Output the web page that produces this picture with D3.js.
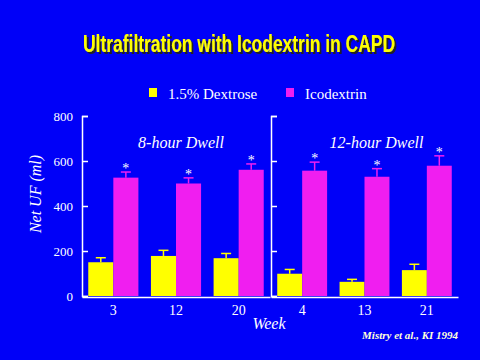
<!DOCTYPE html>
<html>
<head>
<meta charset="utf-8">
<script src="https://cdn.jsdelivr.net/npm/d3@7"></script>
<style>
  body { margin: 0; background: #0000f8; }
  svg { display: block; }
</style>
</head>
<body>
<svg id="chart" width="480" height="360"></svg>
<script>
// data
const panels = ["8-hour Dwell", "12-hour Dwell"];
const weeks = [["3", "12", "20"], ["4", "13", "21"]];
const dextrose = [[150, 178, 168], [99, 63, 115]];
const dextroseErr = [[20, 25, 21], [19, 11, 26]];
const icodextrin = [[526, 500, 561], [557, 530, 579]];
const icodextrinErr = [[25, 25, 26], [38, 36, 44]];
const yTicks = [0, 200, 400, 600, 800];

const BG = "#0000f8";
const YELLOW = "#ffff00";
const MAGENTA = "#f01ef0";
const serif = "'Liberation Serif', 'DejaVu Serif', serif";

const svg = d3.select("#chart");
svg.append("rect").attr("width", 480).attr("height", 360).attr("fill", BG);

// drop shadow for the title
svg.append("defs").append("filter").attr("id", "shadow")
  .attr("filterUnits", "userSpaceOnUse")
  .attr("x", 0).attr("y", 0).attr("width", 480).attr("height", 80)
  .append("feDropShadow")
  .attr("dx", 2).attr("dy", 2).attr("stdDeviation", 0.3)
  .attr("flood-color", "#202020").attr("flood-opacity", 1);

svg.append("text")
  .attr("x", 83).attr("y", 52)
  .attr("textLength", 312).attr("lengthAdjust", "spacingAndGlyphs")
  .attr("font-family", "'Liberation Sans Narrow', 'Liberation Sans', Arial, sans-serif")
  .attr("font-weight", "bold").attr("font-size", 23)
  .attr("fill", YELLOW).attr("filter", "url(#shadow)")
  .text("Ultrafiltration with Icodextrin in CAPD");

// legend
const legend = [["1.5% Dextrose", YELLOW, 149], ["Icodextrin", MAGENTA, 286]];
legend.forEach(([label, color, x]) => {
  svg.append("rect").attr("x", x).attr("y", 88).attr("width", 8).attr("height", 9).attr("fill", color);
  svg.append("text").attr("x", x + 19).attr("y", 99)
    .attr("font-family", serif).attr("font-size", 15).attr("fill", "white").text(label);
});

const y = d3.scaleLinear().domain([0, 800]).range([296, 116]);
const panelX = [[82, 270], [271, 458]];

panels.forEach((name, p) => {
  const x = d3.scaleBand().domain(weeks[p]).range(panelX[p]).paddingInner(0.2).paddingOuter(0.1);
  const bw = x.bandwidth() / 2;
  const g = svg.append("g");

  // y axis, ticks pointing inward
  const ax = g.append("g").attr("transform", `translate(${panelX[p][0]},0)`)
    .call(d3.axisLeft(y).tickValues(yTicks).tickSize(-6).tickPadding(9)
      .tickFormat(p === 0 ? d3.format("d") : () => ""));
  ax.selectAll("path, line").attr("stroke", "white").attr("stroke-width", 1.5);
  ax.selectAll("text").attr("fill", "white").attr("font-family", serif).attr("font-size", 13);

  // baseline + week labels
  const bx = g.append("g").attr("transform", `translate(0,${y(0) + 1})`)
    .call(d3.axisBottom(x).tickSize(0).tickSizeOuter(0).tickPadding(8));
  bx.select("path").attr("stroke", "white").attr("stroke-width", 1.5);
  bx.selectAll("text").attr("fill", "white").attr("font-family", serif).attr("font-size", 14);

  const rows = weeks[p].map((w, i) => ({ w, i }));
  const series = [
    { vals: dextrose[p], err: dextroseErr[p], color: YELLOW, off: 0, star: false },
    { vals: icodextrin[p], err: icodextrinErr[p], color: MAGENTA, off: bw, star: true }
  ];

  series.forEach(s => {
    const sg = g.append("g");
    sg.selectAll("rect").data(rows).join("rect")
      .attr("x", d => x(d.w) + s.off)
      .attr("y", d => y(s.vals[d.i]))
      .attr("width", bw)
      .attr("height", d => y(0) - y(s.vals[d.i]))
      .attr("fill", s.color);
    // error bars (upper half only)
    sg.selectAll("line.v").data(rows).join("line").attr("class", "v")
      .attr("x1", d => x(d.w) + s.off + bw / 2).attr("x2", d => x(d.w) + s.off + bw / 2)
      .attr("y1", d => y(s.vals[d.i])).attr("y2", d => y(s.vals[d.i] + s.err[d.i]))
      .attr("stroke", s.color).attr("stroke-width", 1.5);
    sg.selectAll("line.c").data(rows).join("line").attr("class", "c")
      .attr("x1", d => x(d.w) + s.off + bw / 2 - 5).attr("x2", d => x(d.w) + s.off + bw / 2 + 5)
      .attr("y1", d => y(s.vals[d.i] + s.err[d.i])).attr("y2", d => y(s.vals[d.i] + s.err[d.i]))
      .attr("stroke", s.color).attr("stroke-width", 1.5);
    if (s.star) {
      sg.selectAll("text").data(rows).join("text")
        .attr("x", d => x(d.w) + s.off + bw / 2)
        .attr("y", d => y(s.vals[d.i] + s.err[d.i]) + 1)
        .attr("text-anchor", "middle")
        .attr("font-family", serif).attr("font-size", 14).attr("fill", "white")
        .text("*");
    }
  });

  g.append("text")
    .attr("x", (panelX[p][0] + panelX[p][1]) / 2 + (p === 0 ? 5 : 12))
    .attr("y", 148).attr("text-anchor", "middle")
    .attr("font-family", serif).attr("font-style", "italic").attr("font-size", 16)
    .attr("fill", "white").text(name);
});

// y axis title
svg.append("text")
  .attr("transform", "translate(41,194) rotate(-90)")
  .attr("text-anchor", "middle")
  .attr("font-family", serif).attr("font-style", "italic").attr("font-size", 16)
  .attr("fill", "white").text("Net UF (ml)");

// x axis title
svg.append("text").attr("x", 269).attr("y", 329).attr("text-anchor", "middle")
  .attr("font-family", serif).attr("font-style", "italic").attr("font-size", 16)
  .attr("fill", "white").text("Week");

// citation
svg.append("text").attr("x", 458).attr("y", 339).attr("text-anchor", "end")
  .attr("font-family", serif).attr("font-style", "italic").attr("font-weight", "bold")
  .attr("font-size", 11).attr("fill", "#ffffd8").text("Mistry et al., KI 1994");
</script>
</body>
</html>
